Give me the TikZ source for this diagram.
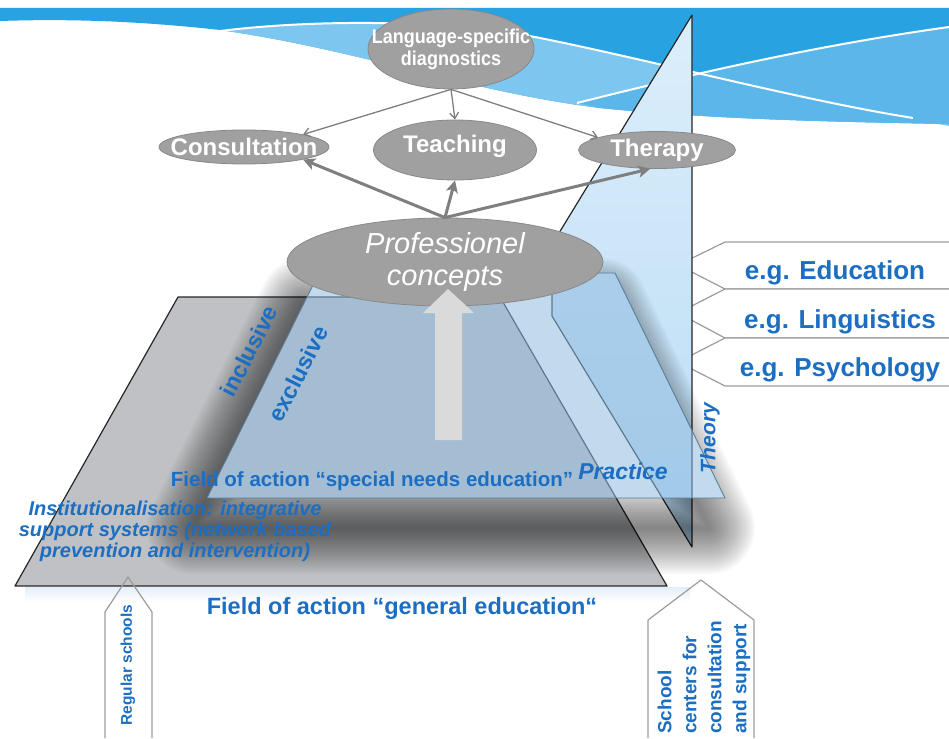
\documentclass[tikz,border=0pt]{standalone}
\usepackage{fontspec}
\setmainfont{Liberation Sans}
\newfontfamily\narrowsans[FakeStretch=0.9]{Liberation Sans}
\usetikzlibrary{shapes.geometric, arrows.meta}

\definecolor{wavedeep}{HTML}{29A2E1}
\definecolor{wavelight}{HTML}{7CC6EF}
\definecolor{wavemid}{HTML}{5BB7EA}
\definecolor{ellgray}{HTML}{A0A0A0}
\definecolor{arrgray}{HTML}{7F7F7F}
\definecolor{txtblue}{HTML}{1B6EC2}
\definecolor{planegray}{HTML}{BFC1C4}
\definecolor{planeblue}{HTML}{8FBBE0}
\definecolor{planeline}{HTML}{5F7D95}
\definecolor{theorytop}{HTML}{DCEEFB}
\definecolor{theorybot}{HTML}{B9DCF4}
\definecolor{taggray}{HTML}{9C9C9C}
\definecolor{bigarrow}{HTML}{DADADA}
\definecolor{glow}{HTML}{E4EEF8}

\begin{document}
\begin{tikzpicture}[x=1pt, y=-1pt,
  bubble/.style={ellipse, fill=ellgray, draw=ellgray!85!black, line width=0.8pt, inner sep=0pt},
  bubbletext/.style={text=white, align=center, inner sep=0pt},
  thinarrow/.style={draw=arrgray, line width=1.3pt, -{Straight Barb[length=6pt,width=9pt]}},
  thickarrow/.style={draw=arrgray, line width=3pt, -{Stealth[length=12pt,width=12pt,inset=3pt]}},
  bluelabel/.style={text=txtblue, inner sep=0pt},
  planeedge/.style={draw=black!85, line width=1.2pt, line join=round},
  tagline/.style={draw=taggray, line width=1.2pt, line join=round}]

\useasboundingbox (0,0) rectangle (949,738);

% ---- decorative wave at the top ----
\fill[wavedeep] (0,8) -- (949,8) -- (949,124)
  .. controls (850,122) and (720,120) .. (600,108)
  .. controls (470,92) and (360,50) .. (220,30)
  .. controls (130,20) and (60,19) .. (0,21) -- cycle;
\fill[wavelight] (213,32) .. controls (300,20) and (440,18) .. (540,38)
  .. controls (650,60) and (800,100) .. (949,126) -- (949,124)
  .. controls (850,122) and (720,120) .. (600,108)
  .. controls (470,92) and (360,50) .. (220,30) -- cycle;
\fill[wavemid] (577,103) .. controls (700,72) and (820,45) .. (949,27) -- (949,124)
  .. controls (850,122) and (720,120) .. (600,108) -- cycle;
\draw[white, line width=2pt] (213,32) .. controls (300,20) and (440,18) .. (540,38)
  .. controls (650,60) and (800,100) .. (913,118);
\draw[white, line width=2pt] (577,103) .. controls (700,72) and (820,45) .. (949,27);

% ---- theory tags (behind the theory plane) ----
\draw[tagline, fill=white] (949,242) -- (725,242) -- (678,265) -- (725,289) -- (949,289);
\draw[tagline, fill=white] (949,289) -- (725,289) -- (678,313) -- (725,338) -- (949,338);
\draw[tagline, fill=white] (949,338) -- (725,338) -- (678,362) -- (725,386) -- (949,386);
\node[bluelabel, font=\bfseries\fontsize{26}{26}\selectfont] (edu) at (835,273) {e.g. Education};
\node[bluelabel, font=\bfseries\fontsize{26}{26}\selectfont] (ling) at (840,322) {e.g. Linguistics};
\node[bluelabel, font=\bfseries\fontsize{26}{26}\selectfont] (psy) at (840,370) {e.g. Psychology};

% ---- general education plane ----
\fill[top color=glow, bottom color=white] (25,587) rectangle (690,602);
\path[planeedge, fill=planegray] (15,586) -- (667,586) -- (500,297) -- (178,297) -- cycle;

% ---- theory plane ----
\path[planeedge, top color=theorytop, bottom color=theorybot]
  (692,15) -- (523,292) -- (552,293) -- (552,316) -- (692,547) -- cycle;

% ---- soft shadow of the special needs plane ----
\begin{scope}
  \clip (-50,-50) -- (1000,-50) -- (1000,800) -- (-50,800) -- cycle
        (207,498) -- (725,498) -- (615,273) -- (319,273) -- cycle;
  \foreach \w in {4,8,...,92} {
    \draw[black, draw opacity=0.029, line width=\w pt, line join=round]
      (193,528) -- (709,528) -- (601,304) -- (305,304) -- cycle;
  }
\end{scope}

% ---- special needs plane ----
\path[fill=planeblue, fill opacity=0.55, draw=planeline, line width=0.9pt, line join=round]
  (207,498) -- (725,498) -- (615,273) -- (319,273) -- cycle;

% ---- labels on the planes ----
\node[bluelabel, rotate=63, font=\bfseries\fontsize{23}{23}\selectfont] (incl) at (249,351) {inclusive};
\node[bluelabel, rotate=63, font=\bfseries\fontsize{23}{23}\selectfont] (excl) at (298,374) {exclusive};
\node[bluelabel, font=\bfseries\fontsize{20.5}{21}\selectfont] (fsp) at (372,481) {Field of action “special needs education”};
\node[bluelabel, font=\bfseries\itshape\fontsize{23}{23}\selectfont] (prac) at (623,471) {Practice};
\node[bluelabel, rotate=90, font=\bfseries\itshape\fontsize{21}{21}\selectfont] (theo) at (710,438) {Theory};
\node[bluelabel, align=center, font=\bfseries\itshape\fontsize{20}{21}\selectfont] (inst) at (175,531)
  {Institutionalisation: integrative\\support systems (network based\\prevention and intervention)};
\node[bluelabel, font=\bfseries\fontsize{23.5}{24}\selectfont] (fgen) at (402,608) {Field of action “general education“};

% ---- upper bubbles ----
\node[bubble, minimum width=166, minimum height=80] (lang) at (451,49) {};
\node[bubbletext, font=\narrowsans\bfseries\fontsize{20}{22}\selectfont] (langtext) at (lang) {Language-specific\\diagnostics};
\node[bubble, minimum width=170, minimum height=34] (cons) at (244,147) {};
\node[bubbletext, font=\bfseries\fontsize{24}{24}\selectfont] (constext) at (cons) {Consultation};
\node[bubble, minimum width=163, minimum height=60] (teach) at (455,150) {};
\node[bubbletext, font=\bfseries\fontsize{24}{24}\selectfont] (teachtext) at (455,146) {Teaching};
\node[bubble, minimum width=157, minimum height=37] (ther) at (657,150) {};
\node[bubbletext, font=\bfseries\fontsize{24}{24}\selectfont] (thertext) at (ther) {Therapy};

\node[bubble, minimum width=316, minimum height=88] (prof) at (445,262) {};
\node[bubbletext, font=\itshape\fontsize{29}{32}\selectfont] (proftext) at (prof) {Professionel\\concepts};

\draw[thinarrow] (lang.south) -- (cons.12);
\draw[thinarrow] (lang.south) -- (teach.north);
\draw[thinarrow] (lang.south) -- (ther.168);
\draw[thickarrow] (prof.north) -- (cons.-12);
\draw[thickarrow] (prof.north) -- (teach.south);
\draw[thickarrow] (prof.north) -- (ther.-110);

% ---- big upward arrow from practice to concepts ----
\fill[bigarrow] (435,440) -- (435,313) -- (423,313) -- (448,289) -- (474,313) -- (462,313) -- (462,440) -- cycle;

% ---- institution tags at the bottom ----
\draw[tagline] (105,738) -- (105,612) -- (128,577) -- (152,612) -- (152,738);
\node[bluelabel, rotate=90, font=\bfseries\fontsize{15.5}{16}\selectfont] (reg) at (128,665) {Regular schools};
\draw[tagline] (648,738) -- (648,620) -- (701,580) -- (754,620) -- (754,738);
\node[bluelabel, rotate=90, anchor=west, align=left, font=\bfseries\fontsize{19}{25}\selectfont] (centers) at (704,734)
  {School\\centers for\\consultation\\and support};
\end{tikzpicture}
\end{document}
